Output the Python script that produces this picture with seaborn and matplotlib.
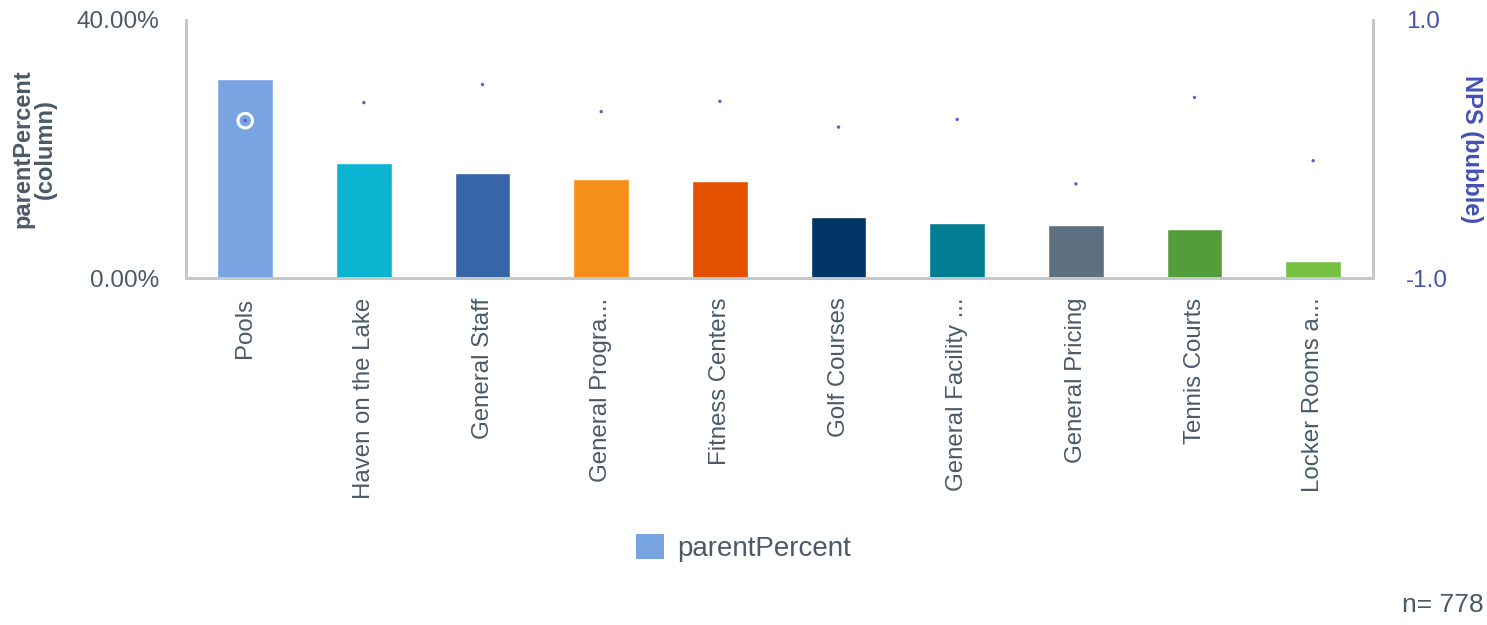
import numpy as np
import pandas as pd
import matplotlib
matplotlib.use("Agg")
import matplotlib.pyplot as plt
import seaborn as sns
from matplotlib.patches import Patch

categories = ["Pools", "Haven on the Lake", "General Staff", "General Progra...",
              "Fitness Centers", "Golf Courses", "General Facility ...",
              "General Pricing", "Tennis Courts", "Locker Rooms a..."]
parent_percent = [30.9, 17.8, 16.3, 15.3, 15.0, 9.5, 8.5, 8.2, 7.6, 2.6]
nps = [0.22, 0.36, 0.50, 0.29, 0.37, 0.17, 0.23, -0.27, 0.40, -0.09]
bar_colors = ["#78A5E2", "#0BB5D1", "#3865A8", "#F68E1A", "#E45100",
              "#033566", "#007D91", "#5C707F", "#559D3A", "#76C043"]

df = pd.DataFrame({"cat": categories, "pct": parent_percent, "nps": nps})

sns.set_theme(style="white")
plt.rcParams['font.family'] = ['Liberation Sans', 'DejaVu Sans']

text_col = "#4A5A68"
blue_col = "#4450B5"
spine_col = "#C3C8CD"

fig = plt.figure(figsize=(14.87, 6.25), dpi=100)
ax = fig.add_axes([0.125, 0.555, 0.798, 0.413])

sns.barplot(data=df, x="cat", y="pct", hue="cat", palette=bar_colors,
            width=0.47, legend=False, ax=ax, saturation=1)
ax.set_ylim(0, 40)
ax.set_xlim(-0.5, len(categories) - 0.5)
ax.set_yticks([0, 40])
ax.set_yticklabels(["0.00%", "40.00%"])
ax.tick_params(axis="y", length=0, pad=19, labelsize=17.5, labelcolor=text_col)
ax.tick_params(axis="x", length=0, pad=14, labelsize=17.3, labelcolor=text_col,
               labelrotation=90)
ax.set_xlabel("")
ax.set_ylabel("parentPercent\n(column)", fontsize=17, fontweight="bold",
              color=text_col, linespacing=1.0, va="center")
ax.yaxis.set_label_coords(-0.128, 0.5)
for s in ["left", "bottom", "right"]:
    ax.spines[s].set_color(spine_col)
    ax.spines[s].set_linewidth(2)
ax.spines["top"].set_visible(False)

ax2 = ax.twinx()
sns.scatterplot(data=df.iloc[:1], x="cat", y="nps", ax=ax2, s=110,
                facecolor="none", edgecolor="white", linewidth=2.2, zorder=3)
sns.scatterplot(data=df, x="cat", y="nps", ax=ax2, s=6, color="#5563C9",
                edgecolor="none", zorder=4)
ax2.set_ylim(-1, 1)
ax2.set_yticks([-1, 1])
ax2.set_yticklabels(["-1.0", "1.0"])
ax2.tick_params(axis="y", length=0, pad=24, labelsize=17.5, labelcolor=blue_col)
ax2.set_ylabel("NPS (bubble)", fontsize=17, fontweight="bold", color=blue_col,
               rotation=270, va="center")
ax2.yaxis.set_label_coords(1.0834, 0.5)
for s in ["left", "bottom", "right"]:
    ax2.spines[s].set_color(spine_col)
    ax2.spines[s].set_linewidth(2)
ax2.spines["top"].set_visible(False)

handles = [Patch(facecolor=bar_colors[0], edgecolor="none", label="parentPercent")]
fig.legend(handles=handles, loc="center", bbox_to_anchor=(0.5, 0.123),
           frameon=False, fontsize=20, labelcolor=text_col,
           handlelength=1.0, handleheight=1.0, handletextpad=0.5)

fig.text(0.9975, 0.032, "n= 778", ha="right", va="center", fontsize=19,
         color=text_col)

fig.savefig("out.png", dpi=100)
